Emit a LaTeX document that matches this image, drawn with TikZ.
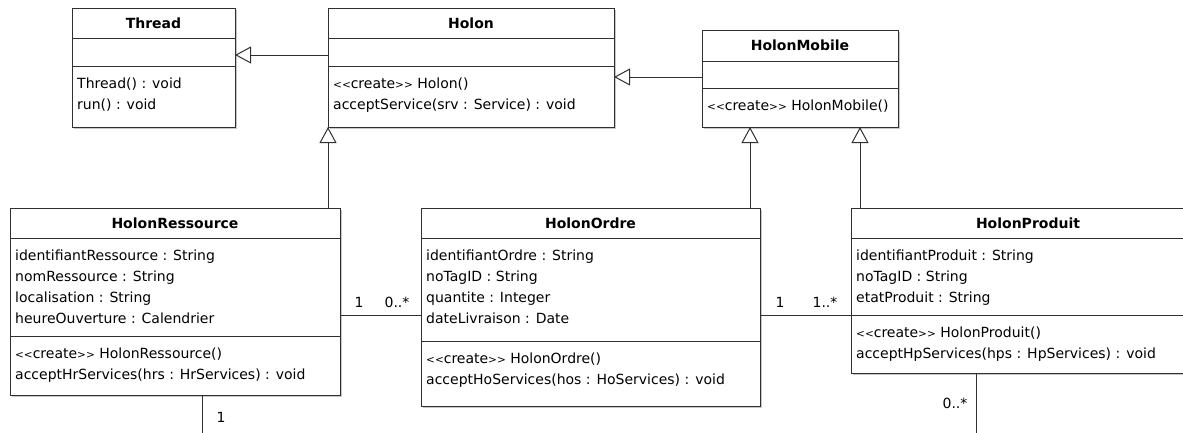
\documentclass[tikz,border=0pt]{standalone}
\usepackage{fontspec}
\setmainfont{DejaVu Sans}
\usetikzlibrary{arrows.meta}
\definecolor{linec}{HTML}{303030}
\newcommand\chev[1]{{\fontsize{10.5}{12}\selectfont#1\kern0pt#1}}
\newcommand\crea{\chev{<}create\chev{>}}
\newcommand\umlbox[5]{%
  \fill[shd] (#2+2,#3+2) rectangle ++(#4,#5);
  \node[cls, minimum width=#4pt, minimum height=#5pt] (#1) at (#2,#3) {};}
\begin{document}
\begin{tikzpicture}[x=1pt,y=-1pt,
  cls/.style={draw=linec, fill=white, line width=1pt, inner sep=0pt, outer sep=0pt, anchor=north west},
  shd/.style={fill=black!22, draw=none},
  txt/.style={anchor=base west, inner sep=0pt, font=\fontsize{14}{16}\selectfont},
  ttl/.style={anchor=base, inner sep=0pt, font=\fontsize{14}{16}\selectfont\bfseries},
  sep/.style={draw=linec, line width=1pt},
  gen/.style={draw=linec, line width=1pt, -{Triangle[open, length=16pt, width=17pt, fill=white]}},
  assoc/.style={draw=linec, line width=1pt},
  mult/.style={anchor=base, inner sep=0pt, font=\fontsize{14}{16}\selectfont}]
\useasboundingbox (0,0) rectangle (1183,432);
\clip (0,0) rectangle (1183,432);

% ---- Thread
\umlbox{thread}{72}{8}{163}{119}
\draw[sep] (thread.west |- 0,38) -- (thread.east |- 0,38);
\draw[sep] (thread.west |- 0,66) -- (thread.east |- 0,66);
\node[ttl] (threadT) at (153.5,28) {Thread};
\node[txt] (threadM1) at (77,88) {Thread() : void};
\node[txt] (threadM2) at (77,109) {run() : void};

% ---- Holon
\umlbox{holon}{328}{8}{286}{119}
\draw[sep] (holon.west |- 0,38) -- (holon.east |- 0,38);
\draw[sep] (holon.west |- 0,66) -- (holon.east |- 0,66);
\node[ttl] (holonT) at (471,28) {Holon};
\node[txt] (holonM1) at (333,88) {\crea{} Holon()};
\node[txt] (holonM2) at (333,109) {acceptService(srv : Service) : void};

% ---- HolonMobile
\umlbox{mobile}{702}{30}{196}{97}
\draw[sep] (mobile.west |- 0,61) -- (mobile.east |- 0,61);
\draw[sep] (mobile.west |- 0,88) -- (mobile.east |- 0,88);
\node[ttl] (mobileT) at (800,50.5) {HolonMobile};
\node[txt] (mobileM1) at (707,110) {\crea{} HolonMobile()};

% ---- HolonRessource
\umlbox{res}{10}{208}{330}{187}
\draw[sep] (res.west |- 0,238) -- (res.east |- 0,238);
\draw[sep] (res.west |- 0,336) -- (res.east |- 0,336);
\node[ttl] (resT) at (175,228) {HolonRessource};
\node[txt] (resA1) at (15,260) {identifiantRessource : String};
\node[txt] (resA2) at (15,281) {nomRessource : String};
\node[txt] (resA3) at (15,302) {localisation : String};
\node[txt] (resA4) at (15,323) {heureOuverture : Calendrier};
\node[txt] (resM1) at (15,358) {\crea{} HolonRessource()};
\node[txt] (resM2) at (15,379) {acceptHrServices(hrs : HrServices) : void};

% ---- HolonOrdre
\umlbox{ord}{421}{208}{339}{198}
\draw[sep] (ord.west |- 0,238) -- (ord.east |- 0,238);
\draw[sep] (ord.west |- 0,341) -- (ord.east |- 0,341);
\node[ttl] (ordT) at (590.5,228) {HolonOrdre};
\node[txt] (ordA1) at (426,260) {identifiantOrdre : String};
\node[txt] (ordA2) at (426,281) {noTagID : String};
\node[txt] (ordA3) at (426,302) {quantite : Integer};
\node[txt] (ordA4) at (426,323) {dateLivraison : Date};
\node[txt] (ordM1) at (426,363) {\crea{} HolonOrdre()};
\node[txt] (ordM2) at (426,384) {acceptHoServices(hos : HoServices) : void};

% ---- HolonProduit
\umlbox{prod}{851}{208}{400}{165}
\draw[sep] (prod.west |- 0,238) -- (prod.east |- 0,238);
\draw[sep] (prod.west |- 0,315) -- (prod.east |- 0,315);
\node[ttl] (prodT) at (1028,228) {HolonProduit};
\node[txt] (prodA1) at (856,260) {identifiantProduit : String};
\node[txt] (prodA2) at (856,281) {noTagID : String};
\node[txt] (prodA3) at (856,302) {etatProduit : String};
\node[txt] (prodM1) at (856,337) {\crea{} HolonProduit()};
\node[txt] (prodM2) at (856,358) {acceptHpServices(hps : HpServices) : void};

% ---- generalisations
\draw[gen] (holon.west |- 0,55) -- (thread.east |- 0,55);
\draw[gen] (mobile.west |- 0,77) -- (holon.east |- 0,77);
\draw[gen] (res.north -| 328,0) -- (holon.south -| 328,0);
\draw[gen] (ord.north -| 750,0) -- (mobile.south -| 750,0);
\draw[gen] (prod.north -| 860,0) -- (mobile.south -| 860,0);

% ---- associations
\draw[assoc] (res.east |- 0,315) -- (ord.west |- 0,315);
\node[mult] (m1) at (359,307) {1};
\node[mult] (m2) at (397,307) {0..*};
\draw[assoc] (ord.east |- 0,315) -- (prod.west |- 0,315);
\node[mult] (m3) at (780,307) {1};
\node[mult] (m4) at (825,307) {1..*};
\coordinate (resEnd) at (202,440);
\coordinate (prodEnd) at (976,440);
\draw[assoc] (res.south -| resEnd) -- (resEnd);
\node[mult] (m5) at (221,422) {1};
\draw[assoc] (prod.south -| prodEnd) -- (prodEnd);
\node[mult] (m6) at (955,408) {0..*};
\end{tikzpicture}
\end{document}
